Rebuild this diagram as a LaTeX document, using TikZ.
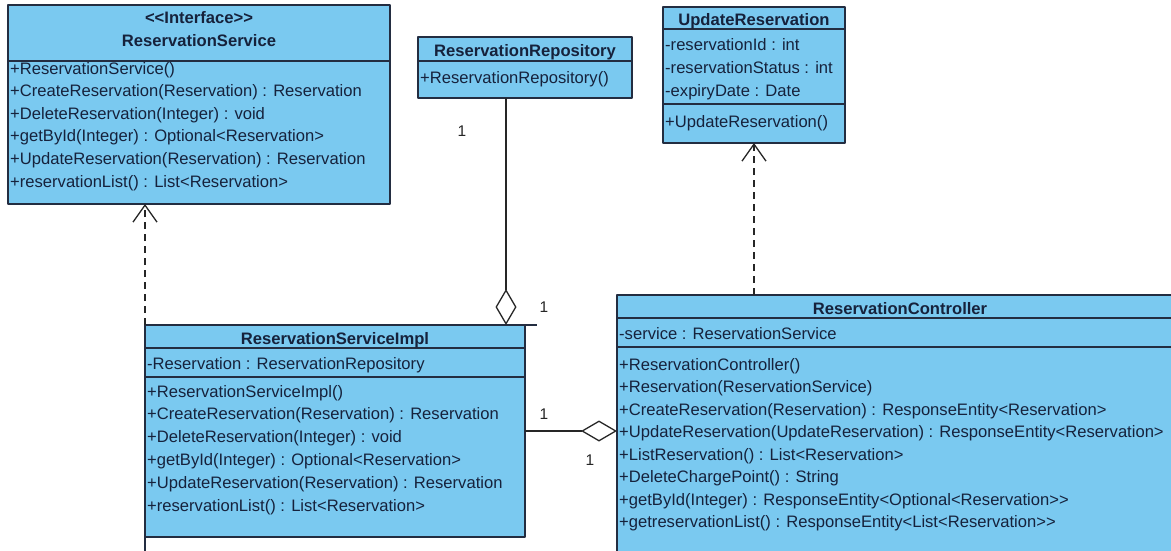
\documentclass[tikz,border=0pt]{standalone}
\usepackage{fontspec}
\newfontfamily\umlfont{Liberation Sans}
\usetikzlibrary{arrows.meta,calc}
\definecolor{umlblue}{RGB}{122,201,240}
\definecolor{umlline}{RGB}{35,45,65}
\definecolor{umltext}{RGB}{22,34,60}
\begin{document}
\begin{tikzpicture}[x=1pt,y=-1pt,line join=round,
	umlbox/.style={draw=umlline,fill=umlblue,line width=1.4pt,anchor=north west,inner sep=0pt,outer sep=0pt},
	sep/.style={umlline,line width=1.3pt},
	hdr/.style={font=\umlfont\bfseries\fontsize{16.6}{20}\selectfont,text=umltext,anchor=base,inner sep=0pt},
	member/.style={font=\umlfont\fontsize{16.6}{20}\selectfont,text=umltext,anchor=base west,inner sep=0pt},
	mult/.style={font=\umlfont\fontsize{15.5}{20}\selectfont,text=black!85,inner sep=0pt},
	dep/.style={black!85,line width=1.3pt,dash pattern=on 7pt off 5pt,-{Straight Barb[length=17pt,width=24pt]}},
	agg/.style={black!85,line width=1.3pt,-{Diamond[open,length=36pt,width=21pt]}}]
	\useasboundingbox (0,0) rectangle (1171,550);
	\clip (0,0) rectangle (1171,550);
	% class boxes
	\node[umlbox,minimum width=382pt,minimum height=199pt] (rs) at (8,5) {};
	\node[umlbox,minimum width=214pt,minimum height=61pt] (rr) at (418,37) {};
	\node[umlbox,minimum width=182pt,minimum height=136pt] (ur) at (663,7) {};
	\node[umlbox,minimum width=380pt,minimum height=212pt] (rsi) at (145,325) {};
	\node[umlbox,minimum width=566pt,minimum height=300pt] (rc) at (617,295) {};
	\draw[sep] (8,61) -- (390,61) (418,61) -- (632,61) (663,29) -- (845,29) (663,104) -- (845,104);
	\draw[sep] (145,348) -- (525,348) (145,377) -- (525,377) (617,318) -- (1183,318) (617,347) -- (1183,347);
	\draw[sep] (rsi.north east) -- ++(12,0) (rsi.south west) -- ++(0,14);
	% headers
	\node[hdr] (rsh1) at (199,23) {<<Interface>>};
	\node[hdr] (rsh2) at (199,46) {ReservationService};
	\node[hdr] (rrh) at (525,56) {ReservationRepository};
	\node[hdr] (urh) at (754,25) {UpdateReservation};
	\node[hdr] (rsih) at (335,344) {ReservationServiceImpl};
	\node[hdr] (rch) at (900,314) {ReservationController};
	% members
	\foreach \t [count=\i] in {+ReservationService(),+CreateReservation(Reservation) : Reservation,+DeleteReservation(Integer) : void,+getById(Integer) : Optional<Reservation>,+UpdateReservation(Reservation) : Reservation,+reservationList() : List<Reservation>}
		\node[member] (rsm\i) at (10,{74+22.6*(\i-1)}) {\t};
	\node[member] (rrm1) at (420,83) {+ReservationRepository()};
	\foreach \t [count=\i] in {-reservationId : int,-reservationStatus : int,-expiryDate : Date}
		\node[member] (ura\i) at (665,{50+23*(\i-1)}) {\t};
	\node[member] (urm1) at (665,127) {+UpdateReservation()};
	\node[member] (rsia1) at (147,369) {-Reservation : ReservationRepository};
	\foreach \t [count=\i] in {+ReservationServiceImpl(),+CreateReservation(Reservation) : Reservation,+DeleteReservation(Integer) : void,+getById(Integer) : Optional<Reservation>,+UpdateReservation(Reservation) : Reservation,+reservationList() : List<Reservation>}
		\node[member] (rsim\i) at (147,{397+22.8*(\i-1)}) {\t};
	\node[member] (rca1) at (619,339) {-service : ReservationService};
	\foreach \t [count=\i] in {+ReservationController(),+Reservation(ReservationService),+CreateReservation(Reservation) : ResponseEntity<Reservation>,+UpdateReservation(UpdateReservation) : ResponseEntity<Reservation>,+ListReservation() : List<Reservation>,+DeleteChargePoint() : String,+getById(Integer) : ResponseEntity<Optional<Reservation>>,+getreservationList() : ResponseEntity<List<Reservation>>}
		\node[member] (rcm\i) at (619,{370+22.5*(\i-1)}) {\t};
	% connectors
	\draw[dep] (rsi.north west) -- (rsi.north west |- rs.south);
	\draw[dep] (ur.south |- rc.north) -- (ur.south);
	\coordinate (rrfoot) at ($(rr.south)+(-19,0)$);
	\draw[agg] (rrfoot) -- (rrfoot |- rsi.north);
	\draw[agg] (rsi.east) -- (rsi.east -| rc.west);
	\node[mult] (m1) at (462,131) {1};
	\node[mult] (m2) at (544,307) {1};
	\node[mult] (m3) at (544,414) {1};
	\node[mult] (m4) at (590,460) {1};
\end{tikzpicture}
\end{document}
